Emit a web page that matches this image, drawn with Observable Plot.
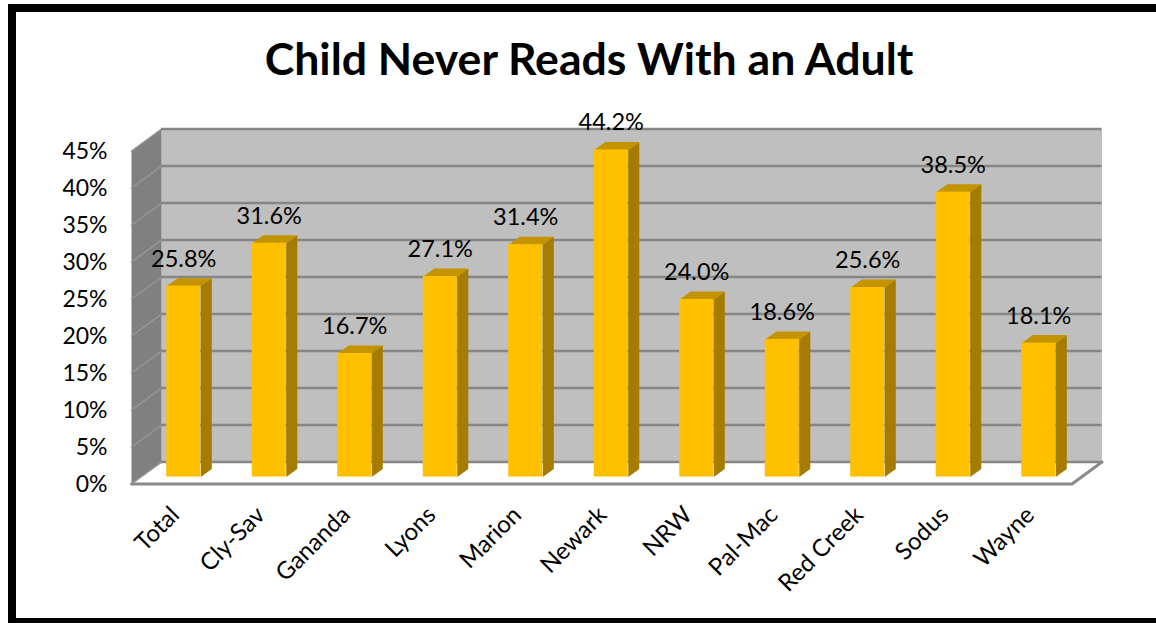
<!DOCTYPE html>
<html>
<head>
<meta charset="utf-8">
<script src="https://cdn.jsdelivr.net/npm/d3@7"></script>
<script src="https://cdn.jsdelivr.net/npm/@observablehq/plot@0.6"></script>
<style>
  html, body { margin: 0; padding: 0; background: #fff; overflow: hidden; }
  #page { position: relative; width: 1156px; height: 623px; overflow: hidden; }
  #frame { position: absolute; left: 8px; top: 4px; width: 1200px; height: 606px; border: 8px solid #000; pointer-events: none; }
  #title { height: 100px; margin-left: 0; width: 1178px; text-align: center; font: 700 44.6px Lato, sans-serif; line-height: 116px; color: #000; white-space: nowrap; }
  svg { display: block; }
</style>
</head>
<body>
<div id="page">
  <div id="title">Child Never Reads With an Adult</div>
  <div id="chart"></div>
  <div id="frame"></div>
</div>
<script>
const categories = ["Total", "Cly-Sav", "Gananda", "Lyons", "Marion", "Newark", "NRW", "Pal-Mac", "Red Creek", "Sodus", "Wayne"];
const values = [25.8, 31.6, 16.7, 27.1, 31.4, 44.2, 24.0, 18.6, 25.6, 38.5, 18.1];
const yTicks = [0, 5, 10, 15, 20, 25, 30, 35, 40, 45];

// Oblique projection, expressed in scale units (category slots, percent points)
const wallX = 0.351, wallY = 2.965;     // full depth of the chart box
const barW = 0.398;                     // bar width as a share of a slot
const barDX = 0.129, barDY = 1.08;      // depth of one bar
const barOX = 0.111, barOY = 0.94;      // bar's front face offset from the box front

const bars = values.map((v, i) => {
  const x1 = i + 0.5 - barW / 2 + barOX, x2 = x1 + barW;
  return { i, v, x1, x2, y1: barOY, y2: v + barOY };
});
const polys = (fn) => bars.flatMap((b) => fn(b).map(([x, y]) => ({ x, y, z: b.i })));
const sideFaces = polys((b) => [[b.x2, b.y1], [b.x2 + barDX, b.y1 + barDY], [b.x2 + barDX, b.y2 + barDY], [b.x2, b.y2]]);
const topFaces = polys((b) => [[b.x1, b.y2], [b.x1 + barDX, b.y2 + barDY], [b.x2 + barDX, b.y2 + barDY], [b.x2, b.y2]]);

const n = categories.length;
const yMax = yTicks[yTicks.length - 1];
const leftWall = [[0, 0], [wallX, wallY], [wallX, yMax + wallY], [0, yMax]].map(([x, y]) => ({ x, y }));
const backWall = [[wallX, wallY], [n + wallX, wallY], [n + wallX, yMax + wallY], [wallX, yMax + wallY]].map(([x, y]) => ({ x, y }));
const floor = [[0, 0], [n, 0], [n + wallX, wallY], [wallX, wallY]].map(([x, y]) => ({ x, y }));
const sideGrid = yTicks.flatMap((t) => [{ x: 0, y: t, z: t }, { x: wallX, y: t + wallY, z: t }]);
const floorEdge = [{ x: 0, y: 0 }, { x: n, y: 0 }, { x: n + wallX, y: wallY }];

const chart = Plot.plot({
  width: 1156,
  height: 523,
  marginLeft: 131,
  marginRight: 84.5,
  marginTop: 50.5,
  marginBottom: 139.5,
  style: { background: "transparent", fontFamily: "Lato, sans-serif", color: "#000" },
  x: { type: "linear", domain: [0, n] },
  y: { type: "linear", domain: [0, yMax] },
  marks: [
    Plot.line(backWall, { x: "x", y: "y", fill: "#bfbfbf", stroke: "none" }),
    Plot.line(leftWall, { x: "x", y: "y", fill: "#808080", stroke: "none" }),
    Plot.line(floor, { x: "x", y: "y", fill: "#ffffff", stroke: "none" }),
    Plot.line(sideGrid, { x: "x", y: "y", z: "z", stroke: "#969696", strokeWidth: 1.5 }),
    Plot.ruleY(yTicks, { x1: wallX, x2: n + wallX, y: (d) => d + wallY, stroke: "#868686", strokeWidth: 2.5 }),
    Plot.line(floorEdge, { x: "x", y: "y", stroke: "#8a8a8a", strokeWidth: 3 }),
    Plot.line(sideFaces, { x: "x", y: "y", z: "z", fill: "#a67c00", stroke: "none" }),
    Plot.line(topFaces, { x: "x", y: "y", z: "z", fill: "#c49300", stroke: "none" }),
    Plot.rect(bars, { x1: "x1", x2: "x2", y1: "y1", y2: "y2", fill: "#ffc000" }),
    Plot.text(bars, {
      x: (d) => d.i + 0.5 + barOX,
      y: "y2",
      dy: -27,
      text: (d) => d.v.toFixed(1) + "%",
      fontSize: 23.5,
      fill: "#000"
    }),
    Plot.axisY({
      ticks: yTicks,
      tickFormat: (d) => d + "%",
      tickSize: 0,
      tickPadding: 24,
      dy: 1,
      fontSize: 23,
      label: null
    }),
    Plot.axisX({
      ticks: categories.map((_, i) => i + 0.5),
      tickFormat: (d) => categories[d - 0.5],
      tickSize: 0,
      tickPadding: 27,
      tickRotate: -45,
      dx: 1,
      fontSize: 24,
      label: null
    })
  ]
});
document.getElementById("chart").appendChild(chart);
</script>
</body>
</html>
